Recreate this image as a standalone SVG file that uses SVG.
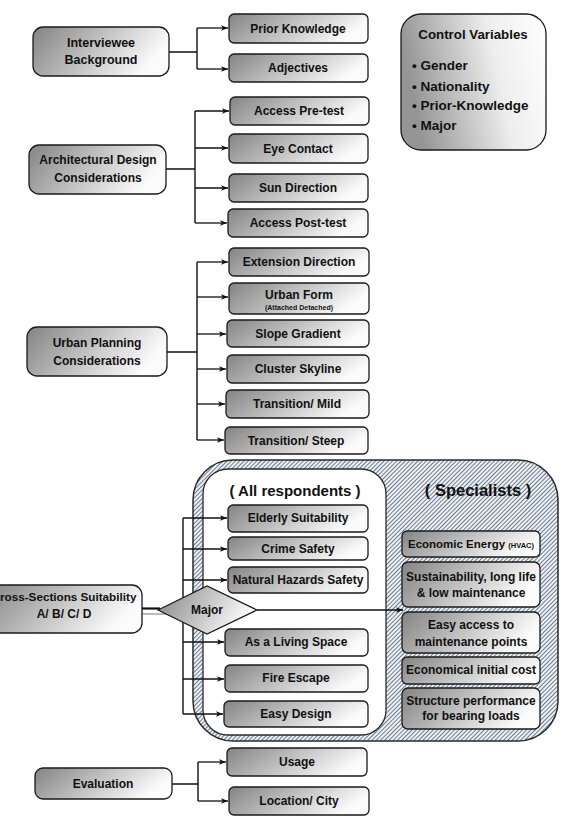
<svg xmlns="http://www.w3.org/2000/svg" width="561" height="816" viewBox="0 0 561 816">
<defs>
<linearGradient id="g" x1="0" y1="0" x2="1" y2="0.3">
<stop offset="0" stop-color="#838383"/>
<stop offset="1" stop-color="#fbfbfb"/>
</linearGradient>
<linearGradient id="gc" x1="0" y1="0.2" x2="1" y2="0">
<stop offset="0" stop-color="#959595"/>
<stop offset="0.6" stop-color="#eeeeee"/>
<stop offset="1" stop-color="#ffffff"/>
</linearGradient>
<pattern id="hatch" patternUnits="userSpaceOnUse" width="3" height="3" patternTransform="rotate(45)">
<rect width="3" height="3" fill="#eef1f4"/>
<line x1="0.5" y1="0" x2="0.5" y2="3" stroke="#6c7d90" stroke-width="1"/>
</pattern>
<marker id="ar" viewBox="0 0 10 10" refX="10" refY="5" markerWidth="7" markerHeight="7" markerUnits="userSpaceOnUse" orient="auto">
<path d="M0,1 L10,5 L0,9 L2.5,5 Z" fill="#111"/>
</marker>
<style>
.b{fill:url(#g);stroke:#1a1a1a;stroke-width:1.3}
.t{font-family:"Liberation Sans",Arial,sans-serif;font-weight:bold;font-size:12px;fill:#111;text-anchor:middle}
.c{fill:none;stroke:#111;stroke-width:1.4}
.a{fill:none;stroke:#111;stroke-width:1.3;marker-end:url(#ar)}
</style>
</defs>

<g id="region">
<rect x="193" y="460" width="365" height="281" rx="40" fill="url(#hatch)" stroke="#2a2a2a" stroke-width="1.5"/>
<rect x="203" y="469" width="183" height="266" rx="25" fill="#ffffff" stroke="#2a2a2a" stroke-width="1.3"/>
<text class="t" x="295" y="496" style="font-size:15px">( All respondents )</text>
<text class="t" x="478" y="496" style="font-size:16.5px">( Specialists )</text>
</g>

<g id="connectors">
<path class="c" d="M169,52 H197 M197,28 V69"/>
<path class="a" d="M197,28 H228"/>
<path class="a" d="M197,69 H228"/>
<path class="c" d="M166,169 H195 M195,111 V223"/>
<path class="a" d="M195,111 H229"/>
<path class="a" d="M195,148 H228"/>
<path class="a" d="M195,188 H228"/>
<path class="a" d="M195,223 H227"/>
<path class="c" d="M167,352 H197 M197,262 V440"/>
<path class="a" d="M197,262 H228"/>
<path class="a" d="M197,297 H228"/>
<path class="a" d="M197,334 H226"/>
<path class="a" d="M197,369 H226"/>
<path class="a" d="M197,404 H225"/>
<path class="a" d="M197,440 H224"/>
<path class="c" d="M183,518 V714"/>
<path class="a" d="M183,518 H227"/>
<path class="a" d="M183,549 H227"/>
<path class="a" d="M183,580 H227"/>
<path class="a" d="M183,642 H224"/>
<path class="a" d="M183,679 H224"/>
<path class="a" d="M183,714 H223"/>
<path d="M142,608.5 H160" stroke="#111" stroke-width="2.2" fill="none"/>
<path d="M142,614 H166" stroke="#777" stroke-width="1" fill="none"/>
<path class="a" d="M257,610 H403"/>
<path class="c" d="M172,784 H198 M198,762 V801"/>
<path class="a" d="M198,762 H226"/>
<path class="a" d="M198,801 H228"/>
</g>

<g id="interviewee"><rect class="b" x="33" y="27" width="136" height="49" rx="10"/><text class="t" x="101" y="47" style="font-size:12.5px">Interviewee</text><text class="t" x="101" y="64" style="font-size:12.5px">Background</text></g>
<g id="prior"><rect class="b" x="229" y="14" width="139" height="29" rx="5"/><text class="t" x="298" y="33">Prior Knowledge</text></g>
<g id="adjectives"><rect class="b" x="229" y="54" width="139" height="28" rx="5"/><text class="t" x="298" y="72">Adjectives</text></g>

<g id="control"><rect x="401" y="14" width="145" height="136" rx="20" fill="url(#gc)" stroke="#1a1a1a" stroke-width="1.3"/>
<text class="t" x="473" y="39" style="font-size:13.3px">Control Variables</text>
<text class="t" x="412" y="70" style="font-size:13.5px;text-anchor:start">• Gender</text>
<text class="t" x="412" y="91" style="font-size:13.5px;text-anchor:start">• Nationality</text>
<text class="t" x="412" y="110" style="font-size:13.5px;text-anchor:start">• Prior-Knowledge</text>
<text class="t" x="412" y="130" style="font-size:13.5px;text-anchor:start">• Major</text></g>

<g id="arch"><rect class="b" x="29" y="145" width="137" height="49" rx="10"/><text class="t" x="98" y="164">Architectural Design</text><text class="t" x="98" y="182">Considerations</text></g>
<g id="pretest"><rect class="b" x="230" y="97" width="139" height="28" rx="5"/><text class="t" x="299" y="115">Access Pre-test</text></g>
<g id="eye"><rect class="b" x="229" y="134" width="139" height="29" rx="5"/><text class="t" x="298" y="153">Eye Contact</text></g>
<g id="sun"><rect class="b" x="229" y="174" width="139" height="28" rx="5"/><text class="t" x="298" y="192">Sun Direction</text></g>
<g id="posttest"><rect class="b" x="228" y="209" width="140" height="28" rx="5"/><text class="t" x="298" y="227">Access Post-test</text></g>

<g id="urban"><rect class="b" x="27" y="327" width="140" height="49" rx="10"/><text class="t" x="97" y="347">Urban Planning</text><text class="t" x="97" y="365">Considerations</text></g>
<g id="extension"><rect class="b" x="229" y="248" width="140" height="28" rx="5"/><text class="t" x="299" y="266">Extension Direction</text></g>
<g id="form"><rect class="b" x="229" y="283" width="140" height="31" rx="5"/><text class="t" x="299" y="299">Urban Form</text><text class="t" x="299" y="310" style="font-size:7px">(Attached Detached)</text></g>
<g id="slope"><rect class="b" x="227" y="320" width="142" height="27" rx="5"/><text class="t" x="298" y="338">Slope Gradient</text></g>
<g id="skyline"><rect class="b" x="227" y="355" width="142" height="28" rx="5"/><text class="t" x="298" y="373">Cluster Skyline</text></g>
<g id="mild"><rect class="b" x="226" y="390" width="143" height="28" rx="5"/><text class="t" x="297" y="408">Transition/ Mild</text></g>
<g id="steep"><rect class="b" x="225" y="427" width="143" height="27" rx="5"/><text class="t" x="296" y="445">Transition/ Steep</text></g>

<g id="cross"><rect class="b" x="-15" y="585" width="157" height="48" rx="10"/><text class="t" x="0" y="601" style="text-anchor:start;font-size:11.7px">ross-Sections Suitability</text><text class="t" x="64" y="618">A/ B/ C/ D</text></g>
<g id="major"><polygon points="158,610 207,586 257,610 207,634" fill="url(#g)" stroke="#1a1a1a" stroke-width="1.2"/><text class="t" x="207" y="614">Major</text></g>

<g id="elderly"><rect class="b" x="228" y="505" width="140" height="27" rx="5"/><text class="t" x="298" y="522">Elderly Suitability</text></g>
<g id="crime"><rect class="b" x="228" y="537" width="140" height="23" rx="5"/><text class="t" x="298" y="553">Crime Safety</text></g>
<g id="hazards"><rect class="b" x="228" y="567" width="140" height="26" rx="5"/><text class="t" x="298" y="584">Natural Hazards Safety</text></g>
<g id="living"><rect class="b" x="225" y="629" width="143" height="27" rx="5"/><text class="t" x="296" y="646">As a Living Space</text></g>
<g id="fire"><rect class="b" x="225" y="665" width="143" height="27" rx="5"/><text class="t" x="296" y="682">Fire Escape</text></g>
<g id="easy"><rect class="b" x="224" y="701" width="144" height="26" rx="5"/><text class="t" x="296" y="718">Easy Design</text></g>

<g id="energy"><rect class="b" x="402" y="531" width="138" height="26" rx="5"/><text class="t" x="471" y="548" style="font-size:11.5px">Economic Energy <tspan style="font-size:7.5px">(HVAC)</tspan></text></g>
<g id="sustain"><rect class="b" x="402" y="562" width="138" height="45" rx="6"/><text class="t" x="471" y="581">Sustainability, long life</text><text class="t" x="471" y="597">&amp; low maintenance</text></g>
<g id="access"><rect class="b" x="402" y="612" width="138" height="41" rx="6"/><text class="t" x="471" y="629">Easy access to</text><text class="t" x="471" y="646">maintenance points</text></g>
<g id="initial"><rect class="b" x="402" y="657" width="138" height="27" rx="5"/><text class="t" x="471" y="674">Economical initial cost</text></g>
<g id="structure"><rect class="b" x="402" y="688" width="138" height="41" rx="6"/><text class="t" x="471" y="705">Structure performance</text><text class="t" x="471" y="720">for bearing loads</text></g>

<g id="evaluation"><rect class="b" x="35" y="768" width="137" height="31" rx="8"/><text class="t" x="103" y="788">Evaluation</text></g>
<g id="usage"><rect class="b" x="227" y="748" width="140" height="28" rx="5"/><text class="t" x="297" y="766">Usage</text></g>
<g id="location"><rect class="b" x="229" y="787" width="140" height="28" rx="5"/><text class="t" x="299" y="805">Location/ City</text></g>
</svg>
